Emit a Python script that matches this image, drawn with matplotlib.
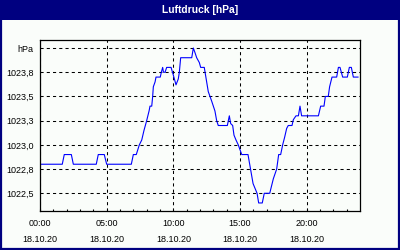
import matplotlib
matplotlib.use("Agg")
import matplotlib.pyplot as plt
from matplotlib.patches import Rectangle

plt.rcParams['font.family'] = ['Liberation Sans', 'DejaVu Sans']

# time in hours since 18.10.20 00:00, pressure in hPa
hours = [0.0, 1.67, 1.82, 2.35, 2.5, 4.22, 4.37, 4.82, 5.0, 6.85, 7.0, 7.22,
         7.45, 7.63, 7.8, 8.0, 8.18, 8.25, 8.38, 8.45, 8.5, 8.63, 8.7, 9.02,
         9.1, 9.2, 9.26, 9.38, 9.5, 9.83, 10.0, 10.2, 10.37, 10.45, 10.55,
         11.38, 11.5, 11.63, 11.75, 11.95, 12.05, 12.32, 12.38, 12.5, 12.62,
         12.75, 12.88, 13.0, 13.12, 13.25, 13.37, 14.05, 14.2, 14.3, 14.45,
         14.55, 14.7, 14.87, 15.13, 15.6, 15.98, 16.28, 16.4, 16.67, 16.82,
         17.23, 17.5, 17.75, 17.9, 18.05, 18.2, 18.35, 18.5, 18.62, 18.9,
         19.0, 19.2, 19.38, 19.5, 19.62, 20.88, 21.05, 21.3, 21.4, 21.62,
         21.72, 21.9, 22.25, 22.38, 22.5, 22.7, 23.05, 23.2, 23.35, 23.5, 23.85]
pressure = [1022.80, 1022.80, 1022.90, 1022.90, 1022.80, 1022.80, 1022.90,
            1022.90, 1022.80, 1022.80, 1022.90, 1022.90, 1023.00, 1023.05,
            1023.15, 1023.25, 1023.35, 1023.40, 1023.40, 1023.50, 1023.60,
            1023.65, 1023.70, 1023.70, 1023.75, 1023.80, 1023.75, 1023.75,
            1023.80, 1023.80, 1023.72, 1023.62, 1023.68, 1023.75, 1023.90,
            1023.90, 1024.00, 1023.95, 1023.90, 1023.85, 1023.80, 1023.80,
            1023.75, 1023.65, 1023.55, 1023.50, 1023.45, 1023.40, 1023.35,
            1023.25, 1023.20, 1023.20, 1023.30, 1023.22, 1023.20, 1023.10,
            1023.05, 1023.00, 1022.90, 1022.90, 1022.60, 1022.50, 1022.40,
            1022.40, 1022.50, 1022.50, 1022.65, 1022.75, 1022.90, 1022.90,
            1023.00, 1023.08, 1023.17, 1023.20, 1023.20, 1023.26, 1023.30,
            1023.30, 1023.40, 1023.30, 1023.30, 1023.40, 1023.40, 1023.50,
            1023.50, 1023.60, 1023.70, 1023.70, 1023.80, 1023.80, 1023.70,
            1023.70, 1023.80, 1023.80, 1023.70, 1023.70]

ytick_vals = [1022.5, 1022.75, 1023.0, 1023.25, 1023.5, 1023.75, 1024.0]
ytick_labels = ["1022,5", "1022,8", "1023,0", "1023,3", "1023,5", "1023,8", "hPa"]
xtick_vals = [0, 5, 10, 15, 20]
xtick_labels = ["00:00\n18.10.20", "05:00\n18.10.20", "10:00\n18.10.20",
                "15:00\n18.10.20", "20:00\n18.10.20"]

navy = "#000080"
bg = "#fafdfa"

fig = plt.figure(figsize=(4, 2.5), dpi=100, facecolor=bg)

# title bar and frame
fig.patches.append(Rectangle((0, 0.92), 1, 0.08, transform=fig.transFigure,
                             facecolor=navy, edgecolor="none", zorder=0))
fig.patches.append(Rectangle((0.002, 0.003), 0.995, 0.99, transform=fig.transFigure,
                             facecolor="none", edgecolor=navy, linewidth=1.6, zorder=1))
fig.text(0.5, 0.96, "Luftdruck [hPa]", color="white", fontsize=7.4,
         fontweight="bold", ha="center", va="center")

ax = fig.add_axes([0.1, 0.156, 0.8, 0.684])
ax.set_facecolor(bg)
ax.plot(hours, pressure, color="#0000ff", linewidth=0.8)

ax.set_xlim(0, 24)
ax.set_ylim(1022.317, 1024.083)

ax.set_yticks(ytick_vals)
ax.set_yticklabels(ytick_labels)
ax.set_xticks(xtick_vals)
ax.set_xticklabels(xtick_labels, linespacing=2.0)
ax.set_xticks(range(0, 24), minor=True)

ax.tick_params(axis="y", length=0, pad=4.5, labelsize=6.5)
ax.tick_params(axis="x", which="both", direction="in", length=1.6, width=0.8,
               pad=6, labelsize=6.5)

ax.grid(True, which="major", color="black", linestyle=(0, (3, 3)), linewidth=0.75)
for s in ax.spines.values():
    s.set_color("black")
    s.set_linewidth(0.9)

fig.savefig("out.png", dpi=100, facecolor=bg)
